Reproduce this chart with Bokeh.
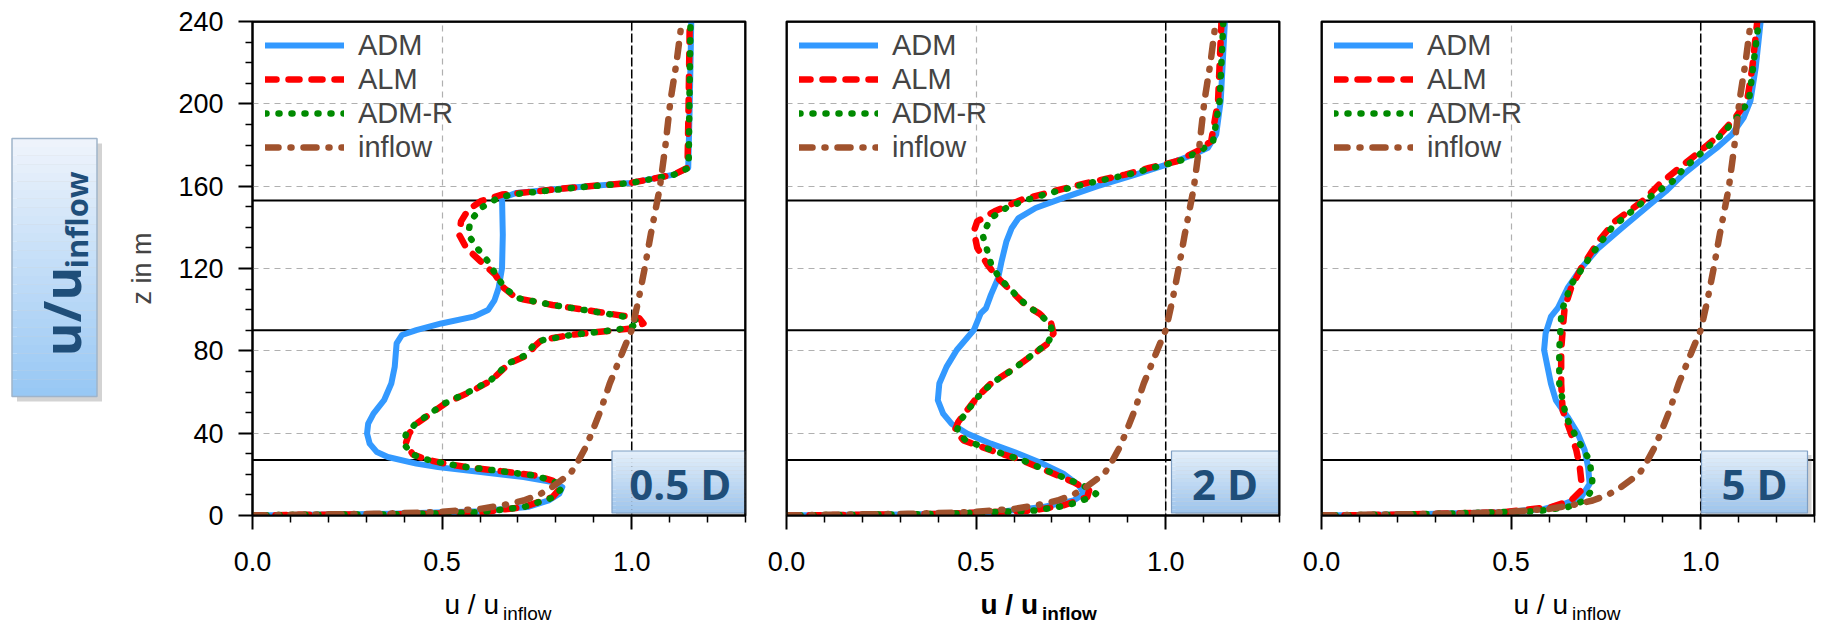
import math
from bokeh.plotting import figure
from bokeh.layouts import row, column
from bokeh.models import (FixedTicker, PrintfTickFormatter, LinearAxis, Span, Label,
                          Legend, LegendItem, Range1d)
from bokeh.embed import file_html
from bokeh.resources import INLINE

# ---------------- data ----------------
panel_titles = ["0.5 D", "2 D", "5 D"]
series_names = ["ADM", "ALM", "ADM-R", "inflow"]
series_colors = ["#3399ff", "#ff0000", "#008a00", "#a0522d"]
rotor_levels = [27, 90, 153]
x_ticks = [0.0, 0.5, 1.0]
x_minor = [0.1, 0.2, 0.3, 0.4, 0.6, 0.7, 0.8, 0.9, 1.1, 1.2, 1.3]
y_ticks = [0, 40, 80, 120, 160, 200, 240]
y_minor = [10, 20, 30, 50, 60, 70, 90, 100, 110, 130, 140, 150, 170, 180, 190, 210, 220, 230]

inflow_z = [0, 0.3, 0.8, 1.6, 3.2, 5.0, 7.3, 10.0, 13.8, 20.3, 26.8, 33.0, 39.8, 51.1, 64.1,
            80.4, 90.1, 104.0, 120.0, 136.4, 159.2, 180.0, 201.4, 220.0, 240.0]
inflow_u = [0, 0.08, 0.32, 0.48, 0.60, 0.66, 0.715, 0.755, 0.79, 0.838, 0.86, 0.878, 0.894, 0.918, 0.942,
            0.978, 1.0, 1.017, 1.034, 1.050, 1.074, 1.089, 1.102, 1.118, 1.132]

# panel 1 : 0.5 D
p1_adm_z = [0, 0.3, 0.8, 2.1, 4.1, 7.3, 10.6, 13.8, 16.2, 18.7, 21.1, 23.5, 25.2, 28.4, 30.8, 34.9,
            39.8, 44.6, 49.5, 56.0, 64.1, 72.2, 83.6, 87.7, 90.1, 93.3, 96.6, 99.8, 104.5, 110.5,
            120.2, 136.4, 154.3, 156.7, 159.2, 161.6, 165.6, 168.9, 200, 240]
p1_adm_u = [0, 0.1, 0.366, 0.602, 0.725, 0.781, 0.809, 0.817, 0.791, 0.715, 0.602, 0.489, 0.432, 0.357,
            0.328, 0.309, 0.302, 0.305, 0.319, 0.347, 0.366, 0.375, 0.380, 0.394, 0.432, 0.498, 0.583,
            0.621, 0.638, 0.649, 0.658, 0.660, 0.658, 0.696, 0.838, 0.998, 1.111, 1.149, 1.153, 1.157]
p1_alm_z = [0, 0.3, 0.6, 1.6, 4.1, 8.9, 13.8, 17.0, 19.5, 21.9, 23.5, 25.2, 27.1, 29.7, 34.9, 39.8,
            44.6, 49.5, 54.4, 60.9, 65.7, 73.9, 77.9, 82.0, 85.2, 87.7, 90.1, 90.9, 93.3, 95.8, 99.1,
            102.3, 105.6, 110.5, 117.0, 123.4, 130.0, 136.4, 142.9, 148.6, 152.7, 155.9, 157.5, 159.4,
            161.6, 165.6, 168.9, 200, 240]
p1_alm_u = [0, 0.1, 0.413, 0.602, 0.715, 0.791, 0.814, 0.791, 0.743, 0.640, 0.564, 0.508, 0.460, 0.423,
            0.404, 0.413, 0.432, 0.470, 0.508, 0.583, 0.630, 0.677, 0.725, 0.743, 0.762, 0.838, 0.960,
            0.998, 1.031, 1.020, 0.904, 0.791, 0.696, 0.663, 0.640, 0.602, 0.564, 0.545, 0.550, 0.569,
            0.602, 0.658, 0.750, 0.850, 0.998, 1.111, 1.147, 1.150, 1.153]
p1_admr_z = [0, 0.3, 0.6, 1.6, 4.1, 8.9, 13.8, 17.0, 19.5, 21.9, 23.5, 25.2, 27.1, 29.7, 34.9, 39.8,
             44.6, 49.5, 54.4, 60.9, 65.7, 73.9, 77.9, 82.0, 85.2, 87.7, 90.1, 91.5, 93.3, 95.8, 99.1,
             102.3, 105.6, 110.5, 117.0, 123.4, 130.0, 136.4, 142.9, 149.4, 153.5, 155.9, 157.5, 159.4,
             161.6, 165.6, 168.9, 200, 240]
p1_admr_u = [0, 0.1, 0.40, 0.600, 0.715, 0.795, 0.818, 0.790, 0.740, 0.640, 0.566, 0.510, 0.462, 0.420,
             0.399, 0.405, 0.430, 0.468, 0.506, 0.580, 0.628, 0.675, 0.720, 0.738, 0.765, 0.840, 0.955,
             0.995, 1.020, 1.005, 0.900, 0.790, 0.700, 0.665, 0.642, 0.621, 0.592, 0.569, 0.574, 0.602,
             0.640, 0.680, 0.760, 0.860, 1.000, 1.112, 1.150, 1.152, 1.155]

# panel 2 : 2 D
p2_adm_z = [0, 0.2, 0.5, 1.6, 4.1, 7.3, 10.6, 14.6, 20.3, 25.2, 30.0, 34.9, 39.8, 44.6, 49.5, 56.0,
            64.1, 72.2, 80.4, 90.1, 98.2, 100.7, 107.2, 115.3, 123.4, 133.2, 139.7, 144.5, 149.4,
            154.3, 160.0, 165.6, 170.5, 175.4, 178.6, 185.1, 201.4, 240]
p2_adm_u = [0, 0.1, 0.322, 0.549, 0.675, 0.757, 0.784, 0.771, 0.730, 0.675, 0.612, 0.539, 0.476, 0.435,
            0.413, 0.399, 0.403, 0.422, 0.449, 0.494, 0.512, 0.526, 0.539, 0.558, 0.567, 0.580, 0.594,
            0.612, 0.657, 0.730, 0.820, 0.920, 1.002, 1.074, 1.111, 1.133, 1.145, 1.156]
p2_alm_z = [0, 0.2, 0.8, 2.4, 4.9, 8.9, 12.2, 16.2, 21.9, 26.8, 31.7, 36.5, 41.4, 45.5, 51.1, 57.6,
            64.1, 70.6, 77.9, 83.6, 88.5, 93.3, 98.2, 102.3, 108.8, 115.3, 121.8, 130.0, 138.1, 142.9,
            147.8, 153.5, 157.5, 161.6, 165.6, 168.9, 172.1, 177.0, 181.9, 201.4, 240]
p2_alm_u = [0, 0.1, 0.413, 0.648, 0.730, 0.793, 0.798, 0.757, 0.684, 0.621, 0.539, 0.467, 0.444, 0.453,
            0.476, 0.503, 0.539, 0.594, 0.648, 0.689, 0.704, 0.698, 0.666, 0.630, 0.594, 0.558, 0.530,
            0.503, 0.494, 0.503, 0.549, 0.621, 0.703, 0.793, 0.893, 0.956, 1.029, 1.083, 1.120, 1.138,
            1.147]
p2_admr_z = [0, 0.2, 0.8, 2.4, 4.9, 8.9, 10.6, 13.0, 16.2, 21.9, 26.8, 31.7, 36.5, 41.4, 45.5, 51.1,
             57.6, 64.1, 70.6, 77.9, 83.6, 88.5, 93.3, 98.2, 102.3, 108.8, 115.3, 121.8, 128.3, 136.4,
             144.5, 149.5, 153.5, 157.5, 161.6, 165.6, 168.9, 172.1, 177.0, 181.9, 201.4, 240]
p2_admr_u = [0, 0.1, 0.42, 0.655, 0.740, 0.805, 0.816, 0.800, 0.760, 0.686, 0.623, 0.542, 0.472, 0.450,
             0.456, 0.478, 0.505, 0.540, 0.595, 0.647, 0.688, 0.702, 0.695, 0.664, 0.632, 0.596, 0.562,
             0.540, 0.530, 0.517, 0.539, 0.580, 0.635, 0.712, 0.800, 0.900, 0.965, 1.035, 1.090, 1.125,
             1.142, 1.152]

# panel 3 : 5 D
p3_adm_z = [0, 0.2, 0.5, 1.6, 3.2, 5.7, 8.9, 15.4, 23.5, 31.7, 39.8, 47.9, 56.0, 64.1, 72.2, 80.4,
            88.5, 96.6, 100.7, 110.5, 120.2, 129.9, 139.7, 149.4, 157.5, 165.6, 172.1, 178.6, 185.1,
            193.2, 201.4, 217.6, 240]
p3_adm_u = [0, 0.1, 0.212, 0.480, 0.587, 0.641, 0.685, 0.707, 0.703, 0.694, 0.676, 0.649, 0.618, 0.605,
            0.596, 0.587, 0.591, 0.605, 0.623, 0.649, 0.685, 0.730, 0.792, 0.855, 0.908, 0.953, 0.997,
            1.042, 1.082, 1.113, 1.131, 1.145, 1.158]
p3_alm_z = [0, 0.2, 0.5, 1.6, 4.1, 7.3, 12.2, 17.0, 23.5, 31.7, 39.8, 51.1, 64.1, 80.4, 90.1, 100.7,
            110.5, 120.2, 133.2, 142.9, 152.7, 160.8, 168.9, 175.4, 185.1, 193.2, 201.4, 217.6, 240]
p3_alm_u = [0, 0.1, 0.212, 0.480, 0.605, 0.658, 0.685, 0.685, 0.681, 0.672, 0.658, 0.636, 0.632, 0.632,
            0.636, 0.641, 0.658, 0.685, 0.730, 0.774, 0.846, 0.890, 0.944, 0.988, 1.051, 1.091, 1.122,
            1.136, 1.149]
p3_admr_z = [0, 0.2, 0.8, 2.1, 4.1, 7.3, 12.2, 17.0, 26.8, 36.5, 47.9, 64.1, 80.4, 96.6, 100.7, 112.1,
             126.7, 139.7, 152.7, 162.4, 168.9, 175.4, 185.1, 193.2, 201.4, 240]
p3_admr_u = [0, 0.1, 0.302, 0.569, 0.649, 0.694, 0.712, 0.714, 0.707, 0.676, 0.645, 0.627, 0.627, 0.632,
             0.636, 0.658, 0.712, 0.765, 0.850, 0.926, 0.957, 0.997, 1.055, 1.095, 1.127, 1.153]

panel_series = [
    [(p1_adm_u, p1_adm_z), (p1_alm_u, p1_alm_z), (p1_admr_u, p1_admr_z), (inflow_u, inflow_z)],
    [(p2_adm_u, p2_adm_z), (p2_alm_u, p2_alm_z), (p2_admr_u, p2_admr_z), (inflow_u, inflow_z)],
    [(p3_adm_u, p3_adm_z), (p3_alm_u, p3_alm_z), (p3_admr_u, p3_admr_z), (inflow_u, inflow_z)],
]

# ---------------- layout / style ----------------
FW, FH = 493, 494
TOPB, BOTB, TITLE_H = 21, 65, 44
UMAX, ZMAX = 1.3, 240
SX, SY = FW / UMAX, FH / ZMAX
FONT = "Liberation Sans"
BADGE_FONT = "Open Sans"
NAVY = "#1f4e79"

line_styles = [
    dict(line_width=6.0, line_dash="solid"),
    dict(line_width=6.5, line_dash="11 12"),
    dict(line_width=6.5, line_dash="1 12"),
    dict(line_width=6.5, line_dash="13 12 1 12"),
]

borders = [(134, 20), (21, 21), (21, 12)]
badge_px = [(359.5, 496.0), (385.0, 492.0), (380.0, 486.0)]   # left/right px from frame left
xlabel_shift = [0, 5, 0]


def hex_mix(c1, c2, t):
    a = [int(c1[i:i + 2], 16) for i in (1, 3, 5)]
    b = [int(c2[i:i + 2], 16) for i in (1, 3, 5)]
    return "#%02x%02x%02x" % tuple(round(a[k] + (b[k] - a[k]) * t) for k in range(3))


def style_axis(ax):
    ax.axis_line_width = 2
    ax.axis_line_color = "black"
    ax.major_tick_line_width = 2
    ax.minor_tick_line_width = 1.5
    ax.major_tick_in = 0
    ax.major_tick_out = 14
    ax.minor_tick_in = 0
    ax.minor_tick_out = 7
    ax.major_label_text_font = FONT
    ax.major_label_text_color = "black"
    ax.major_label_text_font_size = "27px"


def tick_axes(p, side, loc, majors, minors, major_len):
    """Label-less tick marks drawn on a frame edge (no space taken)."""
    for pos, ln, lw in ((majors, major_len, 2), (minors, 7, 1.5)):
        ax = LinearAxis(ticker=FixedTicker(ticks=[], minor_ticks=pos), fixed_location=loc)
        ax.axis_line_width = 2
        ax.axis_line_color = "black"
        ax.major_tick_out = 0
        ax.major_tick_in = 0
        ax.minor_tick_in = 0
        ax.minor_tick_out = ln
        ax.minor_tick_line_width = lw
        p.add_layout(ax, side)


def make_panel(i):
    bl, br = borders[i]
    p = figure(frame_width=FW, frame_height=FH, x_range=Range1d(0, UMAX), y_range=Range1d(0, ZMAX),
               min_border_left=bl, min_border_right=br, min_border_top=TOPB, min_border_bottom=BOTB,
               y_axis_location="left" if i == 0 else None,
               output_backend="svg", toolbar_location=None)
    p.outline_line_color = "black"
    p.outline_line_width = 2

    xb = p.xaxis[0]
    xb.ticker = FixedTicker(ticks=x_ticks, minor_ticks=x_minor)
    xb.formatter = PrintfTickFormatter(format="%.1f")
    style_axis(xb)
    xb.major_label_standoff = 22

    if i == 0:
        yl = p.yaxis[0]
        yl.ticker = FixedTicker(ticks=y_ticks, minor_ticks=y_minor)
        style_axis(yl)
        yl.major_label_standoff = 15
        yl.axis_label = "z in m"
        yl.axis_label_text_font = FONT
        yl.axis_label_text_font_style = "normal"
        yl.axis_label_text_font_size = "27px"
        yl.axis_label_standoff = 18
    else:
        tick_axes(p, "left", 0, y_ticks, y_minor, 14)
        p.ygrid[0].ticker = FixedTicker(ticks=y_ticks)

    tick_axes(p, "above", ZMAX, x_ticks + [UMAX], x_minor, 13)
    tick_axes(p, "right", UMAX, y_ticks, y_minor, 12)

    for g in (p.xgrid[0], p.ygrid[0]):
        g.grid_line_color = "#b0b0b0"
        g.grid_line_dash = "6 5"
        g.grid_line_width = 1.2

    for lev in rotor_levels:
        p.add_layout(Span(location=lev, dimension="width", line_color="black",
                          line_width=2, level="underlay"))
    p.add_layout(Span(location=1.0, dimension="height", line_color="black",
                      line_width=1.5, line_dash="9 3", level="underlay"))

    rends = []
    for (u, z), col, st in zip(panel_series[i], series_colors, line_styles):
        r = p.line(u, z, line_color=col, line_cap="round", line_join="round", **st)
        rends.append(r)

    leg = Legend(items=[LegendItem(label=n, renderers=[r]) for n, r in zip(series_names, rends)],
                 location=(13, FH - 7 - 4 * 34), glyph_width=79, glyph_height=34, label_height=34,
                 label_standoff=14, spacing=0, padding=0, margin=0,
                 border_line_color=None, background_fill_alpha=0,
                 label_text_font=FONT, label_text_font_size="29px")
    p.add_layout(leg)

    # badge with panel title
    lpx, rpx = badge_px[i]
    u0, u1 = lpx / SX, rpx / SX
    zb, zt = 2.5 / SY, 64.5 / SY
    p.quad(left=[u0 + 4 / SX], right=[u1 + 4 / SX], bottom=[zb - 4 / SY], top=[zt - 4 / SY],
           fill_color="#808080", fill_alpha=0.35, line_color=None)
    n = 16
    hs = (zt - zb) / n
    lefts, rights, bots, tops, cols = [], [], [], [], []
    for k in range(n):
        t = k / (n - 1)
        lefts.append(u0); rights.append(u1)
        tops.append(zt - k * hs); bots.append(zt - (k + 1) * hs)
        cols.append(hex_mix("#e2eefa", "#9fc5ec", t))
    p.quad(left=lefts, right=rights, bottom=bots, top=tops, fill_color=cols, line_color=None)
    p.quad(left=[u0], right=[u1], bottom=[zb], top=[zt], fill_color=None,
           line_color="#7f9fc4", line_width=1.2)
    p.add_layout(Label(x=(u0 + u1) / 2, y=32 / SY, text=panel_titles[i], text_align="center",
                       text_baseline="alphabetic", text_font=BADGE_FONT, text_font_style="bold",
                       text_font_size="42px", text_color=NAVY))

    # x-axis title  u / u_inflow  (separate strip below the panel, same borders)
    tf = figure(frame_width=FW, frame_height=TITLE_H, x_range=Range1d(0, FW),
                y_range=Range1d(TITLE_H, 0), min_border_left=bl, min_border_right=br,
                min_border_top=0, min_border_bottom=0, x_axis_type=None, y_axis_type=None,
                output_backend="svg", toolbar_location=None)
    tf.outline_line_color = None
    xc = FW / 2 + xlabel_shift[i]
    style = "bold" if i == 1 else "normal"
    tf.add_layout(Label(x=xc, y=24, text="u / u", text_align="right",
                        text_baseline="alphabetic", text_font=FONT, text_font_size="28px",
                        text_font_style=style, text_color="black"))
    tf.add_layout(Label(x=xc + 4, y=33, text="inflow", text_align="left",
                        text_baseline="alphabetic", text_font=FONT, text_font_size="19px",
                        text_font_style=style, text_color="black"))
    return column(p, tf)


# ---------------- left title badge ----------------
H_TOTAL = TOPB + FH + BOTB + TITLE_H
f0 = figure(frame_width=118, frame_height=H_TOTAL, x_range=Range1d(0, 118), y_range=Range1d(H_TOTAL, 0),
            min_border=0, x_axis_type=None, y_axis_type=None, output_backend="svg",
            toolbar_location=None)
f0.outline_line_color = None
bx0, bx1, by0, by1 = 11.5, 96.5, 138.0, 396.0
f0.quad(left=[bx0 + 5], right=[bx1 + 5], top=[by0 + 5], bottom=[by1 + 5],
        fill_color="#808080", fill_alpha=0.35, line_color=None)
nb = 30
hb = (by1 - by0) / nb
f0.quad(left=[bx0] * nb, right=[bx1] * nb,
        top=[by0 + k * hb for k in range(nb)], bottom=[by0 + (k + 1) * hb for k in range(nb)],
        fill_color=[hex_mix("#eef3fb", "#98c8f4", k / (nb - 1)) for k in range(nb)], line_color=None)
f0.quad(left=[bx0], right=[bx1], top=[by0], bottom=[by1], fill_color=None,
        line_color="#9fb4ca", line_width=1.5)
f0.add_layout(Label(x=60, y=356, text="u/u", angle=math.pi / 2, text_align="left",
                    text_baseline="alphabetic", text_font=BADGE_FONT, text_font_style="bold",
                    text_font_size="52px", text_color=NAVY))
f0.add_layout(Label(x=75, y=268, text="inflow", angle=math.pi / 2, text_align="left",
                    text_baseline="alphabetic", text_font=BADGE_FONT, text_font_style="bold",
                    text_font_size="31px", text_color=NAVY))

panels = [make_panel(i) for i in range(3)]
layout = row(f0, *panels)

open("out.html", "w").write(file_html(layout, INLINE))
